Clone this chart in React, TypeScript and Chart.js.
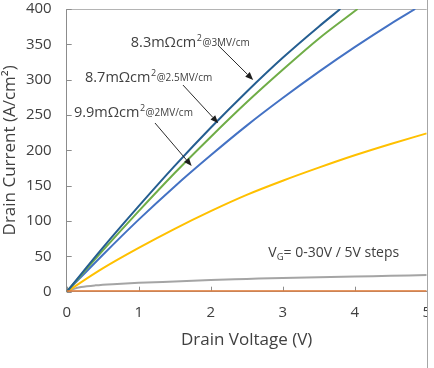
import React, { useEffect, useRef } from "react";
import { Chart, registerables } from "chart.js";

Chart.register(...registerables);

const FONT = '"Open Sans", "Noto Sans", sans-serif';
const TEXT = "#404040";

// Axis ticks
const xTickValues = [0, 1, 2, 3, 4, 5];
const yTickValues = [0, 50, 100, 150, 200, 250, 300, 350, 400];

// Series (gate voltage 0-30 V in 5 V steps)
const seriesLabels = ["VG=0V", "VG=5V", "VG=10V", "VG=15V", "VG=20V", "VG=25V", "VG=30V"];
const seriesColors = ["#5B9BD5", "#ED7D31", "#A5A5A5", "#FFC000", "#4472C4", "#70AD47", "#255E91"];

const vg0X = [0, 5];
const vg0Y = [0, 0];
const vg5X = [0, 5];
const vg5Y = [0, 0];
const vg10X = [0, 0.1, 0.2, 0.4, 0.7, 1, 1.5, 2, 2.5, 3, 3.5, 4, 4.5, 5];
const vg10Y = [0, 4, 6.5, 9, 11, 12.5, 14.5, 16.5, 18, 19.5, 20.5, 21.5, 22.5, 23.5];
const vg15X = [0, 0.5, 1, 1.5, 2, 2.5, 3, 3.5, 4, 4.5, 5];
const vg15Y = [0, 33, 62, 89, 114, 137, 157, 175.5, 193, 209, 224];
const vg20X = [0, 0.5, 1, 1.5, 2, 2.5, 3, 3.5, 4, 4.5, 4.84];
const vg20Y = [0, 52, 102, 149, 193, 235, 274, 311, 346, 379, 400];
const vg25X = [0, 0.5, 1, 1.5, 2, 2.5, 3, 3.5, 4.04];
const vg25Y = [0, 58, 114, 168, 219, 268, 314, 358, 400];
const vg30X = [0, 0.5, 1, 1.5, 2, 2.5, 3, 3.5, 3.8];
const vg30Y = [0, 62, 121, 178, 232, 283, 331, 375, 400];

const seriesX = [vg0X, vg5X, vg10X, vg15X, vg20X, vg25X, vg30X];
const seriesY = [vg0Y, vg5Y, vg10Y, vg15Y, vg20Y, vg25Y, vg30Y];

// Annotations (data coordinates)
const noteTexts = [
  ["8.3mΩcm", "2", "@3MV/cm"],
  ["8.7mΩcm", "2", "@2.5MV/cm"],
  ["9.9mΩcm", "2", "@2MV/cm"],
];
const noteX = [0.89, 0.254, 0.1];
const noteY = [346.6, 297, 247.6];
const arrowFromX = [2.1, 1.615, 1.226];
const arrowFromY = [349, 292.4, 238.7];
const arrowToX = [2.59, 2.105, 1.736];
const arrowToY = [299.5, 238.3, 177.8];
const gateNote = ["V", "G", "= 0-30V / 5V steps"];
const gateNoteX = 2.8;
const gateNoteY = 48.4;

const decorPlugin = {
  id: "decor",
  beforeDatasetsDraw(chart: any) {
    const { ctx, chartArea: a, scales } = chart;
    ctx.save();
    ctx.strokeStyle = "#B4B4B4";
    ctx.lineWidth = 1;
    ctx.beginPath();
    ctx.moveTo(a.left, Math.round(a.top) + 0.5);
    ctx.lineTo(a.right, Math.round(a.top) + 0.5);
    ctx.stroke();
    ctx.strokeStyle = "#8C8C8C";
    ctx.beginPath();
    yTickValues.forEach((v) => {
      const y = Math.round(scales.y.getPixelForValue(v)) + 0.5;
      ctx.moveTo(a.left, y);
      ctx.lineTo(a.left + 5, y);
    });
    xTickValues.forEach((v) => {
      const x = Math.round(scales.x.getPixelForValue(v)) + 0.5;
      ctx.moveTo(x, a.bottom);
      ctx.lineTo(x, a.bottom - 5);
    });
    ctx.stroke();
    ctx.restore();
  },
  afterDraw(chart: any) {
    const { ctx, scales, width, height } = chart;
    const sx = scales.x;
    const sy = scales.y;
    ctx.save();
    ctx.fillStyle = TEXT;
    ctx.textBaseline = "alphabetic";
    ctx.textAlign = "left";
    noteTexts.forEach((t, i) => {
      let x = sx.getPixelForValue(noteX[i]);
      const y = sy.getPixelForValue(noteY[i]);
      ctx.font = `14.5px ${FONT}`;
      ctx.fillText(t[0], x, y);
      x += ctx.measureText(t[0]).width + 0.5;
      ctx.font = `9px ${FONT}`;
      ctx.fillText(t[1], x, y - 6);
      x += ctx.measureText(t[1]).width + 0.5;
      ctx.font = `10px ${FONT}`;
      ctx.fillText(t[2], x, y - 0.5);
    });
    // arrows
    ctx.strokeStyle = "#2B2B2B";
    ctx.fillStyle = "#1E1E1E";
    ctx.lineWidth = 1;
    arrowFromX.forEach((_, i) => {
      const x1 = sx.getPixelForValue(arrowFromX[i]);
      const y1 = sy.getPixelForValue(arrowFromY[i]);
      const x2 = sx.getPixelForValue(arrowToX[i]);
      const y2 = sy.getPixelForValue(arrowToY[i]);
      const ang = Math.atan2(y2 - y1, x2 - x1);
      const len = 8;
      const w = 3.2;
      const bx = x2 - len * Math.cos(ang);
      const by = y2 - len * Math.sin(ang);
      ctx.beginPath();
      ctx.moveTo(x1, y1);
      ctx.lineTo(bx, by);
      ctx.stroke();
      ctx.beginPath();
      ctx.moveTo(x2, y2);
      ctx.lineTo(bx - w * Math.sin(ang), by + w * Math.cos(ang));
      ctx.lineTo(bx + w * Math.sin(ang), by - w * Math.cos(ang));
      ctx.closePath();
      ctx.fill();
    });
    // gate voltage note
    ctx.fillStyle = TEXT;
    {
      let x = sx.getPixelForValue(gateNoteX);
      const y = sy.getPixelForValue(gateNoteY);
      ctx.font = `14px ${FONT}`;
      ctx.fillText(gateNote[0], x, y);
      x += ctx.measureText(gateNote[0]).width;
      ctx.font = `9.5px ${FONT}`;
      ctx.fillText(gateNote[1], x, y + 3);
      x += ctx.measureText(gateNote[1]).width;
      ctx.font = `14px ${FONT}`;
      ctx.fillText(gateNote[2], x, y);
    }
    // image frame at the right
    ctx.fillStyle = "#FFFFFF";
    ctx.fillRect(428, 0, width - 428, height);
    ctx.strokeStyle = "#A6A6A6";
    ctx.beginPath();
    ctx.moveTo(427.5, 0);
    ctx.lineTo(427.5, height);
    ctx.stroke();
    ctx.restore();
  },
};

export default function App() {
  const ref = useRef<HTMLCanvasElement | null>(null);
  useEffect(() => {
    document.body.style.margin = "0";
    const canvas = ref.current;
    if (!canvas) return;
    const datasets = seriesLabels.map((label, i) => ({
      label,
      data: seriesX[i].map((x, j) => ({ x, y: seriesY[i][j] })),
      borderColor: seriesColors[i],
      backgroundColor: seriesColors[i],
      borderWidth: i === 1 ? 3 : 2,
      pointRadius: 0,
      fill: false,
      cubicInterpolationMode: "monotone" as const,
      order: i === 1 ? 0 : 10 - i,
    }));
    const chart = new Chart(canvas, {
      type: "line",
      data: { datasets },
      options: {
        animation: false,
        responsive: false,
        maintainAspectRatio: false,
        layout: { padding: { top: 9, right: 7.3, left: 0, bottom: 0 } },
        plugins: { legend: { display: false }, tooltip: { enabled: false } },
        scales: {
          x: {
            type: "linear",
            min: 0,
            max: 5,
            afterBuildTicks: (s: any) => {
              s.ticks = xTickValues.map((v) => ({ value: v }));
            },
            afterFit: (s: any) => {
              s.height = 76.3;
              s.paddingLeft = 0;
              s.paddingRight = 0;
            },
            grid: { display: false, drawTicks: false },
            border: { display: true, color: "#8C8C8C" },
            ticks: { color: TEXT, font: { family: FONT, size: 15 }, padding: 12, maxRotation: 0 },
            title: {
              display: true,
              text: "Drain Voltage (V)",
              color: TEXT,
              font: { family: FONT, size: 17 },
              padding: { top: 0, bottom: 18 },
            },
          },
          y: {
            type: "linear",
            min: 0,
            max: 400,
            afterBuildTicks: (s: any) => {
              s.ticks = yTickValues.map((v) => ({ value: v }));
            },
            afterFit: (s: any) => {
              s.width = 66.7;
              s.paddingTop = 0;
              s.paddingBottom = 0;
            },
            grid: { display: false, drawTicks: false },
            border: { display: true, color: "#8C8C8C" },
            ticks: { color: TEXT, font: { family: FONT, size: 15 }, padding: 15 },
            title: {
              display: true,
              text: "Drain Current (A/cm²)",
              color: TEXT,
              font: { family: FONT, size: 17 },
              padding: { top: 0, bottom: 0 },
            },
          },
        },
      },
      plugins: [decorPlugin],
    });
    return () => chart.destroy();
  }, []);
  return (
    <div style={{ position: "fixed", left: 0, top: 0, width: 434, height: 368, background: "#fff" }}>
      <canvas ref={ref} width={434} height={368} style={{ width: 434, height: 368, display: "block" }} />
    </div>
  );
}
